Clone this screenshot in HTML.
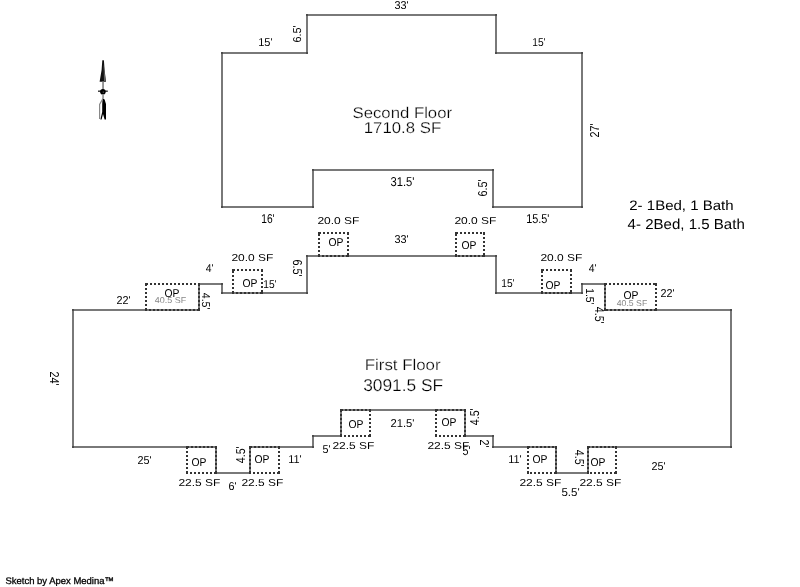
<!DOCTYPE html>
<html><head><meta charset="utf-8"><style>
html,body{margin:0;padding:0;background:#fff;width:800px;height:587px;overflow:hidden}
svg{display:block;will-change:transform}
text{font-family:"Liberation Sans", sans-serif;text-rendering:geometricPrecision}
</style></head><body>
<svg width="800" height="587" viewBox="0 0 800 587">
<rect x="0" y="0" width="800" height="587" fill="#fff"/>
<polygon points="222,53 307,53 307,15 496,15 496,53 582,53 582,207 493,207 493,170 313,170 313,207 222,207" fill="none" stroke="#797979" stroke-width="2" stroke-linejoin="miter"/><polygon points="73,310 199,310 199,284 222,284 222,293 307,293 307,256 496,256 496,293 582,293 582,284 605,284 605,310 731,310 731,447 588,447 588,473 556,473 556,447 493,447 493,436 465,436 465,410 341,410 341,436 313,436 313,447 279,447 250,447 250,473 216,473 216,447 73,447" fill="none" stroke="#797979" stroke-width="2" stroke-linejoin="miter"/><rect x="221" y="52" width="2" height="2" fill="#4c4c4c"/><rect x="306" y="52" width="2" height="2" fill="#4c4c4c"/><rect x="306" y="14" width="2" height="2" fill="#4c4c4c"/><rect x="495" y="14" width="2" height="2" fill="#4c4c4c"/><rect x="495" y="52" width="2" height="2" fill="#4c4c4c"/><rect x="581" y="52" width="2" height="2" fill="#4c4c4c"/><rect x="581" y="206" width="2" height="2" fill="#4c4c4c"/><rect x="492" y="206" width="2" height="2" fill="#4c4c4c"/><rect x="492" y="169" width="2" height="2" fill="#4c4c4c"/><rect x="312" y="169" width="2" height="2" fill="#4c4c4c"/><rect x="312" y="206" width="2" height="2" fill="#4c4c4c"/><rect x="221" y="206" width="2" height="2" fill="#4c4c4c"/><rect x="72" y="309" width="2" height="2" fill="#4c4c4c"/><rect x="198" y="309" width="2" height="2" fill="#4c4c4c"/><rect x="198" y="283" width="2" height="2" fill="#4c4c4c"/><rect x="221" y="283" width="2" height="2" fill="#4c4c4c"/><rect x="221" y="292" width="2" height="2" fill="#4c4c4c"/><rect x="306" y="292" width="2" height="2" fill="#4c4c4c"/><rect x="306" y="255" width="2" height="2" fill="#4c4c4c"/><rect x="495" y="255" width="2" height="2" fill="#4c4c4c"/><rect x="495" y="292" width="2" height="2" fill="#4c4c4c"/><rect x="581" y="292" width="2" height="2" fill="#4c4c4c"/><rect x="581" y="283" width="2" height="2" fill="#4c4c4c"/><rect x="604" y="283" width="2" height="2" fill="#4c4c4c"/><rect x="604" y="309" width="2" height="2" fill="#4c4c4c"/><rect x="730" y="309" width="2" height="2" fill="#4c4c4c"/><rect x="730" y="446" width="2" height="2" fill="#4c4c4c"/><rect x="587" y="446" width="2" height="2" fill="#4c4c4c"/><rect x="587" y="472" width="2" height="2" fill="#4c4c4c"/><rect x="555" y="472" width="2" height="2" fill="#4c4c4c"/><rect x="555" y="446" width="2" height="2" fill="#4c4c4c"/><rect x="492" y="446" width="2" height="2" fill="#4c4c4c"/><rect x="492" y="435" width="2" height="2" fill="#4c4c4c"/><rect x="464" y="435" width="2" height="2" fill="#4c4c4c"/><rect x="464" y="409" width="2" height="2" fill="#4c4c4c"/><rect x="340" y="409" width="2" height="2" fill="#4c4c4c"/><rect x="340" y="435" width="2" height="2" fill="#4c4c4c"/><rect x="312" y="435" width="2" height="2" fill="#4c4c4c"/><rect x="312" y="446" width="2" height="2" fill="#4c4c4c"/><rect x="278" y="446" width="2" height="2" fill="#4c4c4c"/><rect x="249" y="446" width="2" height="2" fill="#4c4c4c"/><rect x="249" y="472" width="2" height="2" fill="#4c4c4c"/><rect x="215" y="472" width="2" height="2" fill="#4c4c4c"/><rect x="215" y="446" width="2" height="2" fill="#4c4c4c"/><rect x="72" y="446" width="2" height="2" fill="#4c4c4c"/><path d="M146,284H199M199,284V310M199,310H146M146,310V284" fill="none" stroke="#333" stroke-width="2" stroke-dasharray="2 2"/><rect x="145" y="283" width="2" height="2" fill="#333"/><rect x="198" y="283" width="2" height="2" fill="#333"/><rect x="198" y="309" width="2" height="2" fill="#333"/><rect x="145" y="309" width="2" height="2" fill="#333"/><path d="M233,270H262M262,270V293M262,293H233M233,293V270" fill="none" stroke="#333" stroke-width="2" stroke-dasharray="2 2"/><rect x="232" y="269" width="2" height="2" fill="#333"/><rect x="261" y="269" width="2" height="2" fill="#333"/><rect x="261" y="292" width="2" height="2" fill="#333"/><rect x="232" y="292" width="2" height="2" fill="#333"/><path d="M319,233H348M348,233V256M348,256H319M319,256V233" fill="none" stroke="#333" stroke-width="2" stroke-dasharray="2 2"/><rect x="318" y="232" width="2" height="2" fill="#333"/><rect x="347" y="232" width="2" height="2" fill="#333"/><rect x="347" y="255" width="2" height="2" fill="#333"/><rect x="318" y="255" width="2" height="2" fill="#333"/><path d="M456,233H484M484,233V256M484,256H456M456,256V233" fill="none" stroke="#333" stroke-width="2" stroke-dasharray="2 2"/><rect x="455" y="232" width="2" height="2" fill="#333"/><rect x="483" y="232" width="2" height="2" fill="#333"/><rect x="483" y="255" width="2" height="2" fill="#333"/><rect x="455" y="255" width="2" height="2" fill="#333"/><path d="M542,270H571M571,270V293M571,293H542M542,293V270" fill="none" stroke="#333" stroke-width="2" stroke-dasharray="2 2"/><rect x="541" y="269" width="2" height="2" fill="#333"/><rect x="570" y="269" width="2" height="2" fill="#333"/><rect x="570" y="292" width="2" height="2" fill="#333"/><rect x="541" y="292" width="2" height="2" fill="#333"/><path d="M605,284H656M656,284V310M656,310H605M605,310V284" fill="none" stroke="#333" stroke-width="2" stroke-dasharray="2 2"/><rect x="604" y="283" width="2" height="2" fill="#333"/><rect x="655" y="283" width="2" height="2" fill="#333"/><rect x="655" y="309" width="2" height="2" fill="#333"/><rect x="604" y="309" width="2" height="2" fill="#333"/><path d="M341,410H370M370,410V436M370,436H341M341,436V410" fill="none" stroke="#333" stroke-width="2" stroke-dasharray="2 2"/><rect x="340" y="409" width="2" height="2" fill="#333"/><rect x="369" y="409" width="2" height="2" fill="#333"/><rect x="369" y="435" width="2" height="2" fill="#333"/><rect x="340" y="435" width="2" height="2" fill="#333"/><path d="M436,410H465M465,410V436M465,436H436M436,436V410" fill="none" stroke="#333" stroke-width="2" stroke-dasharray="2 2"/><rect x="435" y="409" width="2" height="2" fill="#333"/><rect x="464" y="409" width="2" height="2" fill="#333"/><rect x="464" y="435" width="2" height="2" fill="#333"/><rect x="435" y="435" width="2" height="2" fill="#333"/><path d="M187,447H216M216,447V473M216,473H187M187,473V447" fill="none" stroke="#333" stroke-width="2" stroke-dasharray="2 2"/><rect x="186" y="446" width="2" height="2" fill="#333"/><rect x="215" y="446" width="2" height="2" fill="#333"/><rect x="215" y="472" width="2" height="2" fill="#333"/><rect x="186" y="472" width="2" height="2" fill="#333"/><path d="M250,447H279M279,447V473M279,473H250M250,473V447" fill="none" stroke="#333" stroke-width="2" stroke-dasharray="2 2"/><rect x="249" y="446" width="2" height="2" fill="#333"/><rect x="278" y="446" width="2" height="2" fill="#333"/><rect x="278" y="472" width="2" height="2" fill="#333"/><rect x="249" y="472" width="2" height="2" fill="#333"/><path d="M528,447H556M556,447V473M556,473H528M528,473V447" fill="none" stroke="#333" stroke-width="2" stroke-dasharray="2 2"/><rect x="527" y="446" width="2" height="2" fill="#333"/><rect x="555" y="446" width="2" height="2" fill="#333"/><rect x="555" y="472" width="2" height="2" fill="#333"/><rect x="527" y="472" width="2" height="2" fill="#333"/><path d="M588,447H616M616,447V473M616,473H588M588,473V447" fill="none" stroke="#333" stroke-width="2" stroke-dasharray="2 2"/><rect x="587" y="446" width="2" height="2" fill="#333"/><rect x="615" y="446" width="2" height="2" fill="#333"/><rect x="615" y="472" width="2" height="2" fill="#333"/><rect x="587" y="472" width="2" height="2" fill="#333"/>
<g stroke="none">
<path d="M102.3,60.3 L103.9,60.3 L104.6,70 L106,81.8 L99.6,81.8 L101.6,70 Z" fill="#111"/>
<path d="M103.6,64 L104.4,70 L105.6,81 L104,81 Z" fill="#666"/>
<rect x="102.2" y="81.5" width="1.7" height="9" fill="#888"/>
<rect x="98" y="90.5" width="9.8" height="1.4" fill="#333"/>
<circle cx="102.9" cy="91.8" r="2.8" fill="#000"/>
<circle cx="103.3" cy="92.1" r="0.7" fill="#666"/>
<rect x="102.2" y="94.3" width="1.7" height="4.2" fill="#999"/>
<path d="M102.6,98.2 L104.6,99.5 L106,104 L106,119.4 L104.6,119.4 L103,114 L101.6,119.4 L100.4,119.4 L102.2,112 L102.2,104 Z" fill="#000"/>
<path d="M102.4,99.5 L99.6,104.5 L99.6,119" fill="none" stroke="#888" stroke-width="1.2"/>
</g>

<text transform="translate(394.46 9.00) scale(0.948 1)" font-size="11.43" fill="#000">33&#39;</text>
<text transform="translate(258.17 46.00) scale(0.968 1)" font-size="11.43" fill="#000">15&#39;</text>
<text transform="translate(301.00 42.54) rotate(-90) scale(0.949 1)" font-size="11.43" fill="#000">6.5&#39;</text>
<text transform="translate(532.23 46.00) scale(0.894 1)" font-size="11.43" fill="#000">15&#39;</text>
<text transform="translate(599.00 137.54) rotate(-90) scale(0.843 1)" font-size="12.86" fill="#000">27&#39;</text>
<text transform="translate(352.56 118.00) scale(1.081 1)" font-size="15.47" fill="#000" stroke="#fff" stroke-width="0.25">Second Floor</text>
<text transform="translate(363.74 133.00) scale(1.069 1)" font-size="15.71" fill="#000" stroke="#fff" stroke-width="0.25">1710.8 SF</text>
<text transform="translate(390.44 186.00) scale(0.873 1)" font-size="12.86" fill="#000">31.5&#39;</text>
<text transform="translate(487.00 196.54) rotate(-90) scale(0.844 1)" font-size="12.86" fill="#000">6.5&#39;</text>
<text transform="translate(261.23 223.00) scale(0.794 1)" font-size="12.86" fill="#000">16&#39;</text>
<text transform="translate(526.19 223.00) scale(0.845 1)" font-size="12.86" fill="#000">15.5&#39;</text>
<text transform="translate(629.25 210.29) scale(1.096 1)" font-size="13.71" fill="#000">2- 1Bed, 1 Bath</text>
<text transform="translate(627.62 229.20) scale(1.046 1)" font-size="14.40" fill="#000">4- 2Bed, 1.5 Bath</text>
<text transform="translate(317.40 224.00) scale(1.197 1)" font-size="10.00" fill="#000">20.0 SF</text>
<text transform="translate(454.40 224.00) scale(1.197 1)" font-size="10.00" fill="#000">20.0 SF</text>
<text transform="translate(394.46 243.00) scale(0.948 1)" font-size="11.43" fill="#000">33&#39;</text>
<text transform="translate(328.48 246.00) scale(0.907 1)" font-size="11.43" fill="#000">OP</text>
<text transform="translate(461.48 249.00) scale(0.907 1)" font-size="11.43" fill="#000">OP</text>
<text transform="translate(231.40 261.00) scale(1.197 1)" font-size="10.00" fill="#000">20.0 SF</text>
<text transform="translate(205.74 272.00) scale(0.907 1)" font-size="11.43" fill="#000">4&#39;</text>
<text transform="translate(293.00 259.46) rotate(90) scale(0.844 1)" font-size="12.86" fill="#000">6.5&#39;</text>
<text transform="translate(242.48 287.00) scale(0.907 1)" font-size="11.43" fill="#000">OP</text>
<text transform="translate(263.23 288.00) scale(0.894 1)" font-size="11.43" fill="#000">15&#39;</text>
<text transform="translate(116.46 304.00) scale(0.948 1)" font-size="11.43" fill="#000">22&#39;</text>
<text transform="translate(164.48 297.00) scale(0.907 1)" font-size="11.43" fill="#000">OP</text>
<text transform="translate(154.78 303.00) scale(1.048 1)" font-size="8.57" fill="#888">40.5 SF</text>
<text transform="translate(202.00 292.73) rotate(90) scale(0.933 1)" font-size="11.43" fill="#000">4.5&#39;</text>
<text transform="translate(540.40 261.00) scale(1.197 1)" font-size="10.00" fill="#000">20.0 SF</text>
<text transform="translate(545.48 289.00) scale(0.907 1)" font-size="11.43" fill="#000">OP</text>
<text transform="translate(501.23 287.00) scale(0.894 1)" font-size="11.43" fill="#000">15&#39;</text>
<text transform="translate(588.74 272.00) scale(0.907 1)" font-size="11.43" fill="#000">4&#39;</text>
<text transform="translate(586.00 288.22) rotate(90) scale(0.905 1)" font-size="11.43" fill="#000">1.5&#39;</text>
<text transform="translate(595.00 306.73) rotate(90) scale(0.830 1)" font-size="12.86" fill="#000">4.5&#39;</text>
<text transform="translate(623.48 299.00) scale(0.907 1)" font-size="11.43" fill="#000">OP</text>
<text transform="translate(616.78 306.00) scale(1.014 1)" font-size="8.57" fill="#888">40.5 SF</text>
<text transform="translate(660.46 297.00) scale(0.948 1)" font-size="11.43" fill="#000">22&#39;</text>
<text transform="translate(50.00 371.46) rotate(90) scale(0.843 1)" font-size="12.86" fill="#000">24&#39;</text>
<text transform="translate(364.74 370.00) scale(1.090 1)" font-size="15.47" fill="#000" stroke="#fff" stroke-width="0.25">First Floor</text>
<text transform="translate(363.13 391.00) scale(1.013 1)" font-size="17.14" fill="#000" stroke="#fff" stroke-width="0.25">3091.5 SF</text>
<text transform="translate(348.48 428.00) scale(0.907 1)" font-size="11.43" fill="#000">OP</text>
<text transform="translate(390.44 427.00) scale(0.982 1)" font-size="11.43" fill="#000">21.5&#39;</text>
<text transform="translate(332.40 449.00) scale(1.197 1)" font-size="10.00" fill="#000">22.5 SF</text>
<text transform="translate(322.46 453.00) scale(0.942 1)" font-size="11.43" fill="#000">5&#39;</text>
<text transform="translate(441.48 426.00) scale(0.907 1)" font-size="11.43" fill="#000">OP</text>
<text transform="translate(479.00 425.27) rotate(-90) scale(0.830 1)" font-size="12.86" fill="#000">4.5&#39;</text>
<text transform="translate(427.40 449.00) scale(1.197 1)" font-size="10.00" fill="#000">22.5 SF</text>
<text transform="translate(462.46 455.00) scale(0.838 1)" font-size="12.86" fill="#000">5&#39;</text>
<text transform="translate(480.00 439.46) rotate(90) scale(0.838 1)" font-size="12.86" fill="#000">2&#39;</text>
<text transform="translate(508.18 463.00) scale(0.955 1)" font-size="11.43" fill="#000">11&#39;</text>
<text transform="translate(137.46 464.00) scale(0.948 1)" font-size="11.43" fill="#000">25&#39;</text>
<text transform="translate(191.48 466.00) scale(0.907 1)" font-size="11.43" fill="#000">OP</text>
<text transform="translate(245.00 463.27) rotate(-90) scale(0.830 1)" font-size="12.86" fill="#000">4.5&#39;</text>
<text transform="translate(254.48 463.00) scale(0.907 1)" font-size="11.43" fill="#000">OP</text>
<text transform="translate(288.18 463.00) scale(0.955 1)" font-size="11.43" fill="#000">11&#39;</text>
<text transform="translate(178.40 486.00) scale(1.197 1)" font-size="10.00" fill="#000">22.5 SF</text>
<text transform="translate(241.40 486.00) scale(1.197 1)" font-size="10.00" fill="#000">22.5 SF</text>
<text transform="translate(228.46 490.00) scale(0.942 1)" font-size="11.43" fill="#000">6&#39;</text>
<text transform="translate(532.48 463.00) scale(0.907 1)" font-size="11.43" fill="#000">OP</text>
<text transform="translate(575.00 449.73) rotate(90) scale(0.830 1)" font-size="12.86" fill="#000">4.5&#39;</text>
<text transform="translate(590.48 466.00) scale(0.907 1)" font-size="11.43" fill="#000">OP</text>
<text transform="translate(651.46 470.00) scale(0.948 1)" font-size="11.43" fill="#000">25&#39;</text>
<text transform="translate(519.40 486.00) scale(1.197 1)" font-size="10.00" fill="#000">22.5 SF</text>
<text transform="translate(579.40 486.00) scale(1.197 1)" font-size="10.00" fill="#000">22.5 SF</text>
<text transform="translate(561.42 496.00) scale(1.008 1)" font-size="11.43" fill="#000">5.5&#39;</text>
<text transform="translate(5.53 584.11)" font-size="9.47" fill="#000" stroke="#000" stroke-width="0.3">Sketch by Apex Medina™</text>
</svg>
</body></html>
